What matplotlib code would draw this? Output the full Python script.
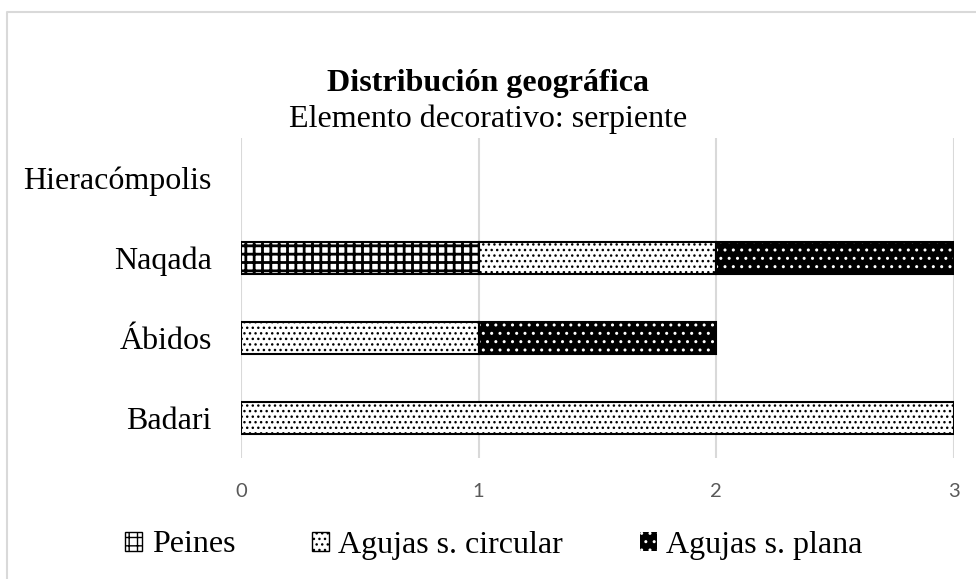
import matplotlib
matplotlib.use('Agg')
import matplotlib.pyplot as plt
from matplotlib.patches import Rectangle
from matplotlib.lines import Line2D

# Data
categorias = ['Badari', 'Ábidos', 'Naqada', 'Hieracómpolis']
peines = [0, 0, 1, 0]
agujas_circular = [3, 1, 1, 0]
agujas_plana = [0, 1, 1, 0]
series_labels = ['Peines', 'Agujas s. circular', 'Agujas s. plana']
x_ticks = [0, 1, 2, 3]

SERIF = 'Liberation Serif'

fig = plt.figure(figsize=(9.76, 5.79), dpi=100)
ax = fig.add_axes([241 / 976, 1 - 458 / 579, 713 / 976, 320 / 579])

h = 0.41


def draw(values, lefts, **kw):
    # only non-zero segments
    idx = [i for i, v in enumerate(values) if v > 0]
    ax.barh(idx, [values[i] for i in idx], left=[lefts[i] for i in idx], height=h, **kw)


left_circ = list(peines)
left_plana = [p + c for p, c in zip(peines, agujas_circular)]
zeros = [0] * len(categorias)

# Peines: black grid
plt.rcParams['hatch.linewidth'] = 2.0
draw(peines, zeros, color='white', edgecolor='black', hatch='++', linewidth=1.5, zorder=3)
h_peines = Rectangle((0, 0), 1, 1, facecolor='white', edgecolor='black', hatch='++', linewidth=1)
plt.rcParams['hatch.linewidth'] = 1.0
# Agujas s. circular: white with black dots
draw(agujas_circular, left_circ, color='white', edgecolor='black', hatch='...', linewidth=1.5, zorder=3)
# Agujas s. plana: black with white dots (hatch drawn in white, outline drawn on top)
draw(agujas_plana, left_plana, color='black', edgecolor='white', hatch='..', linewidth=0, zorder=3)
draw(agujas_plana, left_plana, fill=False, edgecolor='black', linewidth=1.5, zorder=4)

ax.set_xlim(0, 3)
ax.set_ylim(-0.5, len(categorias) - 0.5)
ax.set_xticks(x_ticks)
ax.set_xticklabels([str(t) for t in x_ticks], fontsize=14.5, color='#595959', family='Lato')
ax.set_yticks(range(len(categorias)))
ax.set_yticklabels(categorias, fontsize=23, family=SERIF)
ax.tick_params(axis='y', length=0, pad=21)
ax.tick_params(axis='x', length=0, pad=18)
ax.grid(axis='x', color='#d9d9d9', linewidth=1.5, zorder=0)
for s in ax.spines.values():
    s.set_visible(False)

# Titles
fig.text(0.5, 1 - 83 / 579, 'Distribución geográfica', ha='center', va='center',
         fontsize=23, fontweight='bold', family=SERIF)
fig.text(0.5, 1 - 119 / 579, 'Elemento decorativo: serpiente', ha='center', va='center',
         fontsize=23, family=SERIF)

# Legend
handles = [
    h_peines,
    Rectangle((0, 0), 1, 1, facecolor='white', edgecolor='black', hatch='...', linewidth=1),
    Rectangle((0, 0), 1, 1, facecolor='black', edgecolor='white', hatch='..', linewidth=0),
]
fig.legend(handles, series_labels, loc='center', bbox_to_anchor=(494 / 976, 1 - 545 / 579),
           ncol=3, frameon=False, prop={'family': SERIF, 'size': 23},
           handlelength=0.53, handleheight=0.53, handletextpad=0.3, columnspacing=2.4)

# Chart area border (top and left only visible)
fig.add_artist(Line2D([6.5 / 976, 6.5 / 976, 1], [0, 1 - 11.5 / 579, 1 - 11.5 / 579],
                      transform=fig.transFigure, color='#d9d9d9', linewidth=1.5))

fig.savefig('out.png', dpi=100)
